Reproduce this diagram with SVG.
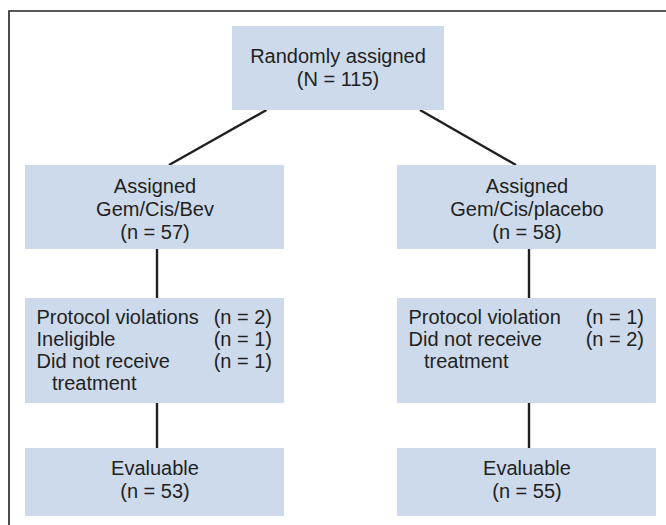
<svg xmlns="http://www.w3.org/2000/svg" width="666" height="525" viewBox="0 0 666 525">
<style>
.box{fill:#ccdaec;}
text{font-family:"Liberation Sans",Arial,sans-serif;font-size:20px;fill:#231f20;}
.c{text-anchor:middle;}
.r{text-anchor:end;}
.frame{stroke:#231f20;stroke-width:1.6;fill:none;}
.conn line{stroke:#231f20;stroke-width:2.4;}
</style>
<rect width="666" height="525" fill="#ffffff"/>
<path class="frame" d="M9,525 V11 H666"/>
<g id="connectors" class="conn">
<line x1="266.5" y1="110" x2="169" y2="165"/>
<line x1="420" y1="110" x2="516" y2="165"/>
<line x1="157" y1="249" x2="157" y2="298"/>
<line x1="529" y1="249" x2="529" y2="298"/>
<line x1="157" y1="403" x2="157" y2="448"/>
<line x1="529" y1="403" x2="529" y2="448"/>
</g>
<g id="randomized">
<rect class="box" x="232" y="26" width="212" height="84"/>
<text class="c" x="338" y="63">Randomly assigned</text>
<text class="c" x="338" y="86">(N = 115)</text>
</g>
<g id="arm-bev">
<rect class="box" x="25" y="165" width="259" height="84"/>
<text class="c" x="155" y="193">Assigned</text>
<text class="c" x="155" y="216">Gem/Cis/Bev</text>
<text class="c" x="155" y="239">(n = 57)</text>
</g>
<g id="arm-placebo">
<rect class="box" x="397" y="165" width="259" height="84"/>
<text class="c" x="527" y="193">Assigned</text>
<text class="c" x="527" y="216">Gem/Cis/placebo</text>
<text class="c" x="527" y="239">(n = 58)</text>
</g>
<g id="excluded-bev">
<rect class="box" x="25" y="298" width="259" height="105"/>
<text x="36.5" y="324">Protocol violations</text>
<text class="r" x="272" y="324">(n = 2)</text>
<text x="36.5" y="345.5">Ineligible</text>
<text class="r" x="272" y="345.5">(n = 1)</text>
<text x="36.5" y="367.5">Did not receive</text>
<text class="r" x="272" y="367.5">(n = 1)</text>
<text x="52" y="390">treatment</text>
</g>
<g id="excluded-placebo">
<rect class="box" x="397" y="298" width="259" height="105"/>
<text x="408.5" y="324">Protocol violation</text>
<text class="r" x="644" y="324">(n = 1)</text>
<text x="408.5" y="345.5">Did not receive</text>
<text class="r" x="644" y="345.5">(n = 2)</text>
<text x="424" y="367.5">treatment</text>
</g>
<g id="evaluable-bev">
<rect class="box" x="25" y="448" width="259" height="68"/>
<text class="c" x="155" y="475">Evaluable</text>
<text class="c" x="155" y="498">(n = 53)</text>
</g>
<g id="evaluable-placebo">
<rect class="box" x="397" y="448" width="259" height="68"/>
<text class="c" x="527" y="475">Evaluable</text>
<text class="c" x="527" y="498">(n = 55)</text>
</g>
</svg>
